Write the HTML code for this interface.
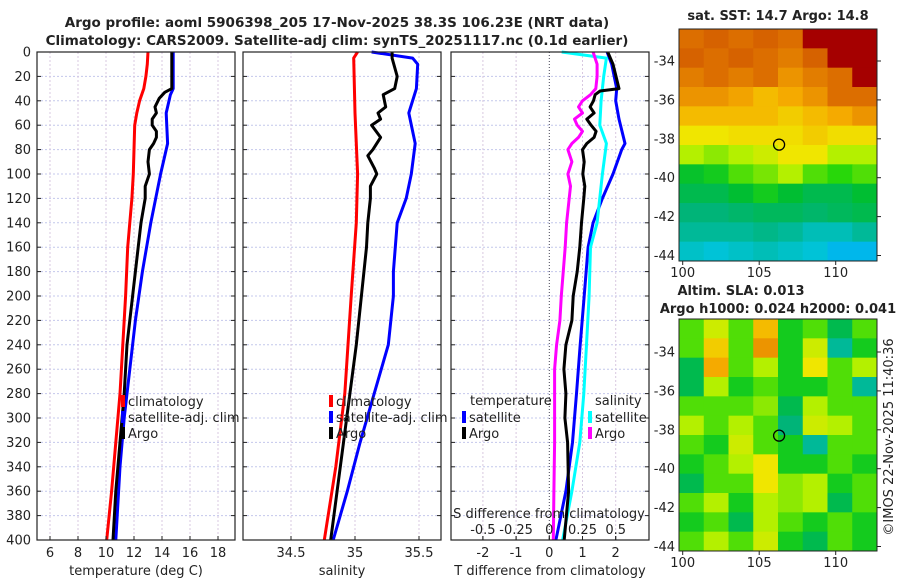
<!DOCTYPE html>
<html><head><meta charset="utf-8"><style>
body{margin:0;background:#fff;}
svg text{font-family:"DejaVu Sans","Liberation Sans",sans-serif;fill:#222;}
</style></head><body>
<svg id="c" width="900" height="580" xmlns="http://www.w3.org/2000/svg">
<text x="337" y="27" text-anchor="middle" font-size="13.5" font-weight="bold">Argo profile: aoml 5906398_205 17-Nov-2025 38.3S 106.23E (NRT data)</text>
<text x="337" y="45" text-anchor="middle" font-size="13.5" font-weight="bold">Climatology: CARS2009. Satellite-adj clim: synTS_20251117.nc (0.1d earlier)</text>
<text x="778" y="20" text-anchor="middle" font-size="13" font-weight="bold">sat. SST: 14.7 Argo: 14.8</text>
<text x="741" y="295" text-anchor="middle" font-size="13" font-weight="bold">Altim. SLA: 0.013</text>
<text x="778" y="313" text-anchor="middle" font-size="13" font-weight="bold">Argo h1000: 0.024 h2000: 0.041</text>
<text transform="translate(893,437) rotate(-90)" text-anchor="middle" font-size="13">©IMOS 22-Nov-2025 11:40:36</text>
<g id="g"></g>
</svg>
<script>
// depth axis
const depthTicks=[0,20,40,60,80,100,120,140,160,180,200,220,240,260,280,300,320,340,360,380,400];
// temperature panel
const tDepth=[0,10,20,30,40,50,60,80,100,120,140,160,200,240,280,320,360,400];
const tClim=[13.0,12.95,12.85,12.7,12.4,12.2,12.05,12.0,11.95,11.85,11.7,11.55,11.4,11.2,11.0,10.7,10.4,10.05];
const tSatDepth=[0,30,35,50,75,100,140,180,220,260,300,340,400];
const tSat=[14.8,14.8,14.6,14.3,14.4,13.9,13.2,12.6,12.1,11.7,11.3,11.0,10.7];
const argoDepth=[0,30,33,38,45,50,55,60,65,70,75,80,90,100,110,120,140,160,200,240,280,320,360,400];
const tArgo=[14.7,14.7,14.2,13.8,13.5,13.6,13.3,13.3,13.6,13.6,13.4,13.1,13.0,13.1,12.8,12.8,12.5,12.3,11.9,11.5,11.3,11.0,10.7,10.5];
const tTicks=[6,8,10,12,14,16,18];
// salinity panel
const sClimDepth=[0,5,50,100,140,200,280,340,400];
const sClim=[35.02,34.99,35.0,35.02,35.01,34.97,34.92,34.85,34.76];
const sSatDepth=[0,5,10,30,50,75,100,120,140,180,200,240,280,320,360,400];
const sSat=[35.13,35.45,35.49,35.48,35.42,35.47,35.44,35.4,35.33,35.3,35.3,35.26,35.15,35.04,34.94,34.83];
const sArgoDepth=[0,5,20,30,35,45,50,55,60,70,80,85,95,100,110,120,140,160,200,240,280,320,360,400];
const sArgo=[35.29,35.29,35.33,35.31,35.22,35.24,35.18,35.2,35.13,35.2,35.14,35.1,35.15,35.17,35.12,35.12,35.1,35.09,35.05,35.01,34.96,34.91,34.86,34.81];
const sTicks=[34.5,35,35.5];
// difference panel
const dTSatDepth=[0,10,30,40,55,75,80,100,120,140,160,200,240,280,320,360,400];
const dTSat=[1.74,1.88,2.03,2.0,2.1,2.28,2.18,1.92,1.6,1.32,1.17,1.05,0.93,0.82,0.7,0.5,0.2];
const dTArgoDepth=[0,10,20,30,32,35,40,45,50,55,60,65,70,75,80,90,100,110,120,140,160,180,200,220,240,260,280,300,320,360,400];
const dTArgo=[1.76,1.92,2.01,2.1,1.53,1.38,1.33,1.23,1.35,1.13,1.26,1.41,1.35,1.13,1.0,1.05,1.01,1.07,1.04,0.97,0.92,0.84,0.72,0.68,0.5,0.44,0.5,0.47,0.55,0.58,0.45];
const dSSatDepth=[0,5,20,40,60,75,100,140,160,200,240,280,320,360,400];
const dSSat=[0.093,0.43,0.41,0.39,0.38,0.43,0.40,0.36,0.31,0.30,0.28,0.26,0.23,0.17,0.1];
const dSArgoDepth=[0,10,20,30,35,40,45,50,55,60,65,70,75,80,90,100,110,120,140,160,200,220,240,260,280,300,320,360,400];
const dSArgo=[0.33,0.36,0.36,0.35,0.31,0.25,0.22,0.25,0.19,0.21,0.25,0.22,0.17,0.14,0.17,0.14,0.16,0.15,0.13,0.12,0.09,0.08,0.055,0.04,0.04,0.04,0.04,0.035,0.03];
const dTTicks=[-2,-1,0,1,2];
const dSTicks=[-0.5,-0.25,0,0.25,0.5];
const dSTickLabels=["-0.5","-0.25","0","0.25","0.5"];
// maps
const latTicks=[-34,-36,-38,-40,-42,-44];
const lonTicks=[100,105,110];
const sstGrid=[
[0.8,0.82,0.8,0.82,0.8,0.95,0.95,0.95],
[0.82,0.8,0.82,0.8,0.78,0.82,0.95,0.95],
[0.78,0.8,0.78,0.8,0.75,0.78,0.8,0.95],
[0.75,0.75,0.73,0.7,0.72,0.75,0.8,0.8],
[0.7,0.7,0.7,0.7,0.68,0.7,0.72,0.75],
[0.65,0.65,0.66,0.66,0.66,0.68,0.66,0.66],
[0.6,0.58,0.6,0.62,0.65,0.65,0.6,0.6],
[0.48,0.5,0.55,0.57,0.6,0.55,0.53,0.55],
[0.45,0.45,0.47,0.5,0.47,0.45,0.45,0.47],
[0.42,0.42,0.43,0.44,0.44,0.43,0.44,0.45],
[0.4,0.4,0.4,0.41,0.4,0.38,0.38,0.4],
[0.37,0.36,0.37,0.38,0.37,0.36,0.33,0.33]];
const slaGrid=[
[0.55,0.62,0.55,0.7,0.5,0.55,0.45,0.55],
[0.55,0.68,0.55,0.75,0.5,0.62,0.4,0.5],
[0.45,0.72,0.55,0.6,0.5,0.65,0.55,0.6],
[0.45,0.6,0.5,0.55,0.5,0.5,0.55,0.4],
[0.55,0.55,0.55,0.58,0.45,0.6,0.55,0.55],
[0.6,0.55,0.6,0.55,0.42,0.62,0.6,0.55],
[0.55,0.5,0.62,0.55,0.5,0.4,0.55,0.55],
[0.5,0.55,0.6,0.65,0.5,0.5,0.55,0.5],
[0.45,0.55,0.55,0.65,0.58,0.6,0.5,0.55],
[0.55,0.6,0.5,0.6,0.58,0.6,0.45,0.55],
[0.5,0.55,0.45,0.6,0.55,0.5,0.55,0.5],
[0.55,0.6,0.55,0.62,0.5,0.45,0.55,0.5]];
const argoLon=106.3, argoLat=-38.3;

const NS='http://www.w3.org/2000/svg';
const G=document.getElementById('g');
function mk(tag,attrs,parent){const e=document.createElementNS(NS,tag);for(const k in attrs)e.setAttribute(k,attrs[k]);(parent||G).appendChild(e);return e;}
const Y0=52,Y1=540;
const yD=d=>Y0+(d/400)*(Y1-Y0);
function lin(d0,d1,r0,r1){return v=>r0+(v-d0)/(d1-d0)*(r1-r0);}
const xT=lin(10,12,106,134);
const xS=lin(35,35.5,355,419);
const xDT=lin(0,1,549.3,582.5);
const xDS=lin(0,0.25,549.3,582.5);
const panels=[[37,235],[243,441],[451,649]];

panels.forEach((p,i)=>{
  depthTicks.forEach(d=>{
    const l=mk('line',{x1:p[0],x2:p[1],y1:yD(d),y2:yD(d),stroke:'#c4c8ec','stroke-width':1,'stroke-dasharray':'2,2'});
    
    
  });
});
function vgrid(vals,fx,p){vals.forEach(v=>{const l=mk('line',{x1:fx(v),x2:fx(v),y1:Y0,y2:Y1,stroke:'#d8c8e0','stroke-width':1,'stroke-dasharray':'2,2'});

});}
vgrid(tTicks,xT);vgrid(sTicks,xS);vgrid(dTTicks.filter(v=>v!==0),xDT);
const zl=mk('line',{x1:xDT(0),x2:xDT(0),y1:Y0,y2:Y1,stroke:'#445','stroke-width':1,'stroke-dasharray':'1,2'});



function series(ds,vs,fx,color,name,w){
  const pts=ds.map((d,i)=>fx(vs[i]).toFixed(1)+','+yD(d).toFixed(1)).join(' ');
  const e=mk('polyline',{points:pts,fill:'none',stroke:color,'stroke-width':w||3,'stroke-linejoin':'round'});
  
  
}
series(tDepth,tClim,xT,'#f00','temp-climatology-line');
series(tSatDepth,tSat,xT,'#00f','temp-satellite-line');
series(argoDepth,tArgo,xT,'#000','temp-argo-line');
series(sClimDepth,sClim,xS,'#f00','sal-climatology-line');
series(sSatDepth,sSat,xS,'#00f','sal-satellite-line');
series(sArgoDepth,sArgo,xS,'#000','sal-argo-line');
series(dTSatDepth,dTSat,xDT,'#00f','tdiff-satellite-line');
series(dSSatDepth,dSSat,xDS,'#0ff','sdiff-satellite-line');
series(dTArgoDepth,dTArgo,xDT,'#000','tdiff-argo-line');
series(dSArgoDepth,dSArgo,xDS,'#f0f','sdiff-argo-line');

// frames and ticks
panels.forEach((p,i)=>{
  const r=mk('rect',{x:p[0],y:Y0,width:p[1]-p[0],height:Y1-Y0,fill:'none',stroke:'#222','stroke-width':1.2});
  
  
  depthTicks.forEach(d=>{mk('line',{x1:p[0],x2:p[0]+4,y1:yD(d),y2:yD(d),stroke:'#222'});mk('line',{x1:p[1],x2:p[1]-4,y1:yD(d),y2:yD(d),stroke:'#222'});});
});
depthTicks.forEach(d=>{const t=mk('text',{x:31,y:yD(d)+4.5,'text-anchor':'end','font-size':13});t.textContent=d;

});
function xlabels(vals,fx,y,labels){vals.forEach((v,i)=>{const t=mk('text',{x:fx(v),y:y,'text-anchor':'middle','font-size':13});t.textContent=labels?labels[i]:v;


mk('line',{x1:fx(v),x2:fx(v),y1:Y1,y2:Y1-4,stroke:'#222'});});}
xlabels(tTicks,xT,557);xlabels(sTicks,xS,557);xlabels(dTTicks,xDT,557);xlabels(dSTicks,xDS,534,dSTickLabels);
function txt(s,x,y,name,anchor,size){const t=mk('text',{x:x,y:y,'text-anchor':anchor||'middle','font-size':size||13});t.textContent=s;

return t;}
txt('temperature (deg C)',136,575,'x-axis-title-temperature');
txt('salinity',342,575,'x-axis-title-salinity');
txt('T difference from climatology',550,575,'x-axis-title-tdiff');
txt('S difference from climatology',549,518,'x-axis-title-sdiff');

function legend(x,y,color,label,name){
  const m=mk('rect',{x:x,y:y-10,width:4,height:12,fill:color});
  
  
  txt(label,x+7,y+1,name,'start');
}
legend(121,405,'#f00','climatology','legend-climatology');
legend(121,421,'#00f','satellite-adj. clim','legend-satellite');
legend(121,437,'#000','Argo','legend-argo');
legend(329,405,'#f00','climatology','legend2-climatology');
legend(329,421,'#00f','satellite-adj. clim','legend2-satellite');
legend(329,437,'#000','Argo','legend2-argo');
txt('temperature',470,405,'legend-temperature-header','start');
legend(462,421,'#00f','satellite','legend-tdiff-satellite');
legend(462,437,'#000','Argo','legend-tdiff-argo');
txt('salinity',595,405,'legend-salinity-header','start');
legend(588,421,'#0ff','satellite','legend-sdiff-satellite');
legend(588,437,'#f0f','Argo','legend-sdiff-argo');

// colormap
const stops=[[0.3,[0,170,255]],[0.36,[0,195,215]],[0.42,[0,180,120]],[0.47,[0,190,50]],[0.53,[40,215,10]],[0.6,[180,240,0]],[0.65,[240,230,0]],[0.72,[245,170,0]],[0.8,[220,110,0]],[0.88,[195,60,0]],[0.95,[165,0,0]]];
function cmap(v){if(v<=stops[0][0])return 'rgb('+stops[0][1]+')';for(let i=1;i<stops.length;i++){if(v<=stops[i][0]){const a=stops[i-1],b=stops[i],t=(v-a[0])/(b[0]-a[0]);return 'rgb('+a[1].map((c,j)=>Math.round(c+(b[1][j]-c)*t)).join(',')+')';}}return 'rgb('+stops[stops.length-1][1]+')';}
const MX0=679,MX1=877;
const xLon=lin(100,110,682.7,835.7);
function map(grid,top,bottom,name,latAt34){
  const yLat=lin(-34,-44,latAt34,latAt34+194.5);
  const rows=grid.length,cols=grid[0].length,cw=(MX1-MX0)/cols,ch=(bottom-top)/rows;
  grid.forEach((row,r)=>row.forEach((v,c)=>{const e=mk('rect',{x:MX0+c*cw,y:top+r*ch,width:cw+0.5,height:ch+0.5,fill:cmap(v)});
  
  }));
  const f=mk('rect',{x:MX0,y:top,width:MX1-MX0,height:bottom-top,fill:'none',stroke:'#222'});
  
  
  latTicks.forEach(l=>{const t=txt(String(l),675,yLat(l)+4.5,name+'-lat-label','end');
  mk('line',{x1:MX1,x2:MX1+4,y1:yLat(l),y2:yLat(l),stroke:'#222'});});
  lonTicks.forEach(l=>{txt(String(l),xLon(l),bottom+16,name+'-lon-label');
  mk('line',{x1:xLon(l),x2:xLon(l),y1:bottom,y2:bottom+4,stroke:'#222'});});
  const c=mk('circle',{cx:xLon(argoLon),cy:yLat(argoLat),r:5.5,fill:'none',stroke:'#000','stroke-width':1.3});
  
  
}
map(sstGrid,29,261,'sst-map',61);
map(slaGrid,319,551,'sla-map',352);
</script>
</body></html>
